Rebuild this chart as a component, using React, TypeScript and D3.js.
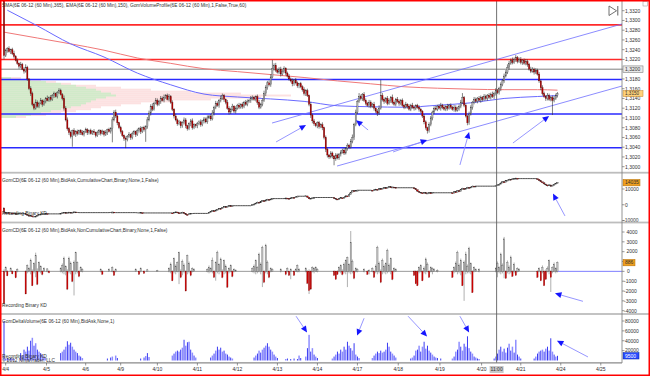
import React from "react";
import * as d3 from "d3";

// ---------- DATA ----------
// price in pips above 1.3000, one entry per 60-min bar
const firstOpen = 340;
const closePips = [
  228,238,242,236,240,232,226,218,212,206,
  210,200,196,204,180,160,150,128,120,132,
  124,130,136,128,134,140,136,142,138,146,
  150,144,152,156,148,140,120,96,78,70,
  62,74,66,72,68,74,70,66,72,76,
  70,74,68,72,70,64,70,74,68,72,
  66,70,76,72,78,96,112,104,90,80,
  72,64,58,56,62,66,60,68,72,66,
  74,78,72,80,76,82,96,110,124,118,
  130,136,128,134,140,136,142,146,138,144,
  132,118,104,96,88,92,84,90,96,84,
  78,88,94,80,86,84,88,92,86,94,
  98,92,100,104,98,110,122,130,126,136,
  140,146,138,132,120,112,118,124,114,120,
  126,122,128,124,132,128,134,136,140,142,
  138,144,132,122,128,136,150,162,172,168,
  184,202,208,198,194,200,190,196,202,192,
  186,180,176,170,178,172,166,170,164,158,
  150,156,146,128,106,94,88,84,90,82,
  86,80,60,36,24,20,28,22,16,24,
  18,26,30,34,28,38,44,40,52,60,
  86,112,134,144,140,148,136,130,126,132,
  124,128,120,114,110,120,146,138,134,140,
  130,136,142,132,128,138,134,130,136,126,
  122,128,124,118,126,122,120,126,122,118,
  114,104,92,80,74,86,100,112,120,118,
  124,120,126,122,118,124,120,126,122,118,
  122,116,120,124,132,142,126,104,90,108,
  122,132,138,134,140,136,142,138,144,140,
  146,142,148,144,150,156,152,160,168,176,
  186,194,204,212,218,214,220,224,216,220,
  214,218,212,216,210,200,196,200,194,198,
  190,176,162,150,144,140,146,138,142,136,
  140,146,150,
];
const wickUp = [
  2,4,3,5,2,4,6,3,4,2,5,3,4,6,3,2,5,4,3,6,
  4,3,5,2,4,3,6,2,5,3,4,2,3,5,4,3,6,4,5,3,
  4,2,5,3,4,2,3,5,2,4,3,2,4,3,5,2,4,3,2,4,
  3,5,2,4,3,6,4,5,3,2,4,3,2,4,3,5,2,4,3,2,
  4,3,5,2,4,3,6,5,4,6,3,5,4,3,5,4,6,3,4,5,
  3,4,2,5,3,4,2,3,5,4,2,3,4,5,3,2,4,3,5,2,
  4,3,5,2,4,6,3,5,4,3,6,4,3,2,5,4,3,5,2,4,
  3,5,2,4,3,5,4,3,5,4,3,2,4,5,3,4,6,5,4,5,
  6,17,4,5,3,4,5,3,4,2,3,4,3,5,2,4,3,2,4,3,
  5,3,4,2,5,3,4,2,3,4,3,5,2,4,3,2,4,3,2,4,
  3,2,4,3,5,2,4,3,5,6,4,5,3,7,4,3,5,4,3,5,
  4,3,5,2,4,6,32,5,4,3,5,4,3,6,4,3,5,4,3,4,
  3,5,2,4,3,5,4,2,3,4,3,2,4,3,2,5,4,3,4,5,
  3,4,5,3,4,2,5,3,4,3,5,4,3,4,5,9,3,4,2,5,
  4,3,5,4,3,5,4,3,5,4,3,5,4,6,4,5,3,4,5,4,
  5,4,6,5,4,6,4,5,3,4,5,3,4,5,4,3,5,4,3,4,
  3,4,3,5,4,3,5,4,3,4,5,4,3,
];
const wickDn = [
  8,3,4,2,5,3,4,2,3,5,4,2,5,3,4,3,5,4,4,3,
  3,4,2,5,3,4,2,3,4,3,5,2,4,3,2,4,5,3,4,5,
  4,21,3,5,4,3,5,2,4,3,5,4,2,3,5,4,3,5,4,2,
  4,3,5,2,4,28,3,4,5,3,4,3,5,18,4,3,5,4,3,5,
  3,4,5,3,4,25,4,3,5,4,3,2,4,3,5,2,4,3,2,4,
  3,4,5,3,4,3,5,4,3,5,4,3,5,4,3,4,5,3,4,3,
  5,3,4,2,4,3,5,4,3,5,4,3,5,4,3,5,4,3,4,5,
  3,4,3,5,4,3,4,3,5,4,3,4,5,4,3,4,3,5,4,3,
  4,3,5,4,3,4,5,3,4,5,3,4,3,5,4,3,4,5,3,4,
  4,5,3,4,6,5,4,3,5,4,3,5,4,6,5,4,3,5,13,4,
  3,4,5,3,4,3,5,4,3,4,5,3,4,3,4,5,3,4,3,5,
  4,3,5,4,6,4,3,4,5,3,4,3,5,4,3,4,3,5,4,3,
  4,3,5,3,4,3,5,4,3,5,4,4,5,4,6,4,3,5,4,3,
  4,3,5,4,3,4,5,3,4,3,5,4,3,5,4,3,4,3,5,4,
  3,5,4,3,4,3,5,4,3,4,5,3,4,3,5,4,3,4,5,3,
  4,3,4,5,3,4,3,5,4,3,4,5,3,4,5,3,4,3,5,4,
  3,4,5,4,3,5,4,3,4,30,4,3,4,
];
// SMA(365) and EMA(150): [bar, pips]
const smaPoints = [[0,276],[20,264],[40,252],[60,239],[80,223],[100,212],[120,201],[140,195],[160,189],[180,183],[200,176],[220,170],[240,164],[260,161],[280,159],[300,158],[320,158],[332,157]];
const emaPoints = [[2,321],[20,289],[40,252],[60,225],[80,192],[100,168],[120,149],[140,143],[160,139],[180,134],[200,125],[220,123],[240,122],[260,126],[280,131],[300,140],[320,144],[332,146]];
// volume profile rows: [pips, total, buy]
const profileRows = [[182,20,10],[178,40,30],[174,55,45],[170,70,60],[166,95,75],[162,120,85],[158,150,95],[154,190,100],[150,240,110],[146,290,115],[142,260,105],[138,210,95],[134,170,90],[130,140,85],[126,120,80],[122,100,70],[118,90,60],[114,75,50],[110,60,40],[106,45,30],[102,25,15]];
const redLevels = [291, 220];
const blueLevels = [179, 108, 39];
const crossPips = 200;
const crossBar = 295.5;
const channelLines = [[160.8, 89.6, 370.7, 292.7], [199.8, 1.4, 370.7, 165.5]];
const priceArrows = [[163.2,50.7,181.2,85.4],[218.4,75.3,211.2,95.5],[233.4,30.2,253.8,54.8],[273.5,3.5,279,71.2],[305.3,48.6,327,104]];
// cumulative delta (thousands), per bar
const cumDelta = [
  -5.0,
  -5.2,-5.0,-5.4,-5.3,-5.6,-5.5,-5.8,-5.6,-5.6,-5.6,-5.6,-5.6,
  -6.0,-6.6,-7.2,-7.0,-7.6,-7.7,-7.3,-6.8,
  -6.2,-6.0,-5.8,-5.8,-5.6,-5.8,-5.8,
  -5.8,-5.8,-5.8,-5.8,-5.8,-5.8,
  -5.6,-5.2,-4.9,-5.3,-5.0,-4.8,-5.1,-4.9,-4.6,-4.8,-4.9,-5.0,-5.0,
  -5.0,-5.0,-5.0,-5.0,-5.0,-5.0,-5.0,-5.0,-5.0,-5.0,-5.0,-5.0,-5.0,-5.0,-5.0,-5.0,-5.0,
  -4.9,-4.7,-4.9,-5.0,-5.0,
  -5.0,-5.0,-5.0,-5.0,-5.0,-5.0,-5.0,-5.0,-5.0,-5.0,-5.0,
  -5.1,-5.2,-5.0,-5.3,-5.2,-5.2,-5.2,-5.2,-5.2,
  -5.2,-5.2,-5.2,-5.2,-5.2,-5.2,-5.2,-5.2,-5.2,-5.2,-5.2,-5.2,
  -5.4,-5.0,-4.6,-5.0,-5.6,-5.2,-4.8,-5.4,-6.2,-6.4,-5.8,-5.6,-5.6,-5.5,-5.5,
  -5.5,-5.5,-5.5,-5.5,-5.5,-5.5,-5.5,
  -5.0,-4.4,-3.8,-4.2,-3.4,-3.0,
  -2.4,-2.6,-1.8,-1.2,-1.6,-1.0,-0.6,-0.9,-0.7,-0.6,-0.6,-0.6,
  -0.6,-0.6,-0.6,-0.6,-0.6,-0.6,-0.6,-0.6,
  0.0,0.4,1.0,1.6,1.2,2.0,2.6,2.2,3.0,3.4,3.0,3.6,3.9,3.9,3.9,3.9,
  3.9,3.9,3.9,3.9,
  4.2,4.0,3.8,4.3,4.6,4.4,5.0,5.4,
  5.4,5.4,5.4,5.4,
  5.6,4.8,3.8,4.0,4.3,4.5,4.6,4.6,
  4.6,4.6,4.6,4.6,4.6,4.6,4.6,4.6,4.6,
  4.2,3.6,3.4,3.8,4.4,4.1,4.8,5.6,5.2,6.4,8.0,9.0,8.6,9.0,9.2,9.2,
  9.2,9.2,9.2,9.2,9.2,9.2,9.2,
  9.0,9.4,9.8,9.4,10.2,10.0,10.4,10.8,10.5,11.0,11.4,11.0,11.2,11.0,10.8,10.8,10.8,
  10.8,10.8,10.8,10.8,10.8,10.8,10.8,10.8,
  10.4,9.6,8.6,8.0,7.6,7.4,7.8,7.2,7.4,7.6,7.4,7.7,7.6,7.6,7.6,7.6,7.6,
  7.6,7.6,7.6,7.6,7.6,7.6,
  7.4,8.2,8.0,9.0,8.4,9.6,10.4,9.8,10.2,11.0,10.6,11.2,11.8,11.6,11.8,11.8,
  11.8,11.8,11.8,11.8,11.8,11.8,11.8,11.8,11.8,11.8,
  12.0,12.6,13.0,13.8,14.6,14.2,15.2,15.6,16.2,15.8,16.4,16.6,16.8,16.6,16.6,
  16.6,16.6,16.6,16.6,16.6,16.6,16.6,16.6,16.6,16.6,
  16.2,15.4,14.6,14.0,13.2,12.6,12.0,12.6,11.8,12.4,13.0,13.6,14.035,
];
const cumArrow = [336.5, -7.1, 329.3, 7.1];
// non-cumulative delta: [bar, close, low, high]
const nonCum = [
  [0,-3300,-3400,200],[1,400,-100,500],[2,-450,-500,100],[4,300,0,400],[5,-250,-300,100],[7,-650,-700,0],[8,200,-100,300],
  [13,-2300,-2300,100],[14,600,-200,700],[15,300,-100,400],[16,1100,-300,1300],[17,-1450,-1500,200],[18,800,-200,900],[19,1600,-600,1900],[20,-1300,-1400,300],[21,900,-100,1000],[22,500,-200,600],[23,-300,-400,100],[24,300,0,400],[26,250,-100,300],[27,-150,-200,100],
  [34,300,-100,400],[35,600,-200,800],[36,1300,-300,1500],[37,500,-400,600],[38,-1800,-1900,200],[39,1300,-200,1500],[40,800,-300,1000],[41,-1000,-1100,100],[42,900,-2450,1100],[43,1900,-300,2000],[44,900,-200,1000],[45,-500,-600,100],[46,400,0,500],[47,200,-100,300],
  [58,200,-100,300],[59,-300,-300,100],[63,200,0,300],[65,400,-100,500],[66,-400,-450,100],[67,200,-100,300],
  [79,200,0,300],[81,-300,-350,50],[82,300,-100,400],[84,-200,-250,100],[86,150,0,250],[92,100,0,150],
  [99,300,-100,400],[100,700,-200,900],[101,-950,-1000,100],[102,1300,-200,1400],[103,500,-300,700],[104,900,-100,1000],[105,1900,-1300,2000],[106,-600,-700,200],[107,1000,-400,1200],[108,600,-200,800],[109,-2000,-2000,100],[110,1600,-300,1700],[111,800,-200,1000],[112,-400,-500,100],[113,300,-100,400],[114,200,0,300],
  [122,200,-100,300],[123,400,-200,600],[124,300,-100,400],[125,1100,-200,1400],[126,-600,-650,100],[127,900,-950,1000],[128,1950,-200,2100],[129,700,-300,800],[130,1250,-100,1400],[131,-600,-700,200],[132,1100,-300,1200],[133,500,-200,700],[134,-1600,-1700,100],[135,300,-200,400],[136,600,-100,700],[137,-500,-600,100],[138,200,-100,300],[139,100,0,200],
  [149,300,-100,400],[150,500,-200,700],[151,1100,-300,1200],[152,400,-200,500],[153,1750,-100,1900],[154,700,-300,900],[155,2400,-1600,2600],[156,-1100,-1200,100],[157,2600,-200,2800],[158,900,-300,1100],[159,-600,-700,100],[160,300,-100,400],[161,200,0,300],
  [166,200,-100,300],[169,-300,-400,0],[170,300,-100,400],[171,-400,-450,50],[172,200,-800,300],[174,-400,-450,100],[175,200,0,300],[176,600,-100,700],[177,200,-100,300],
  [181,300,-100,400],[182,-1200,-1300,100],[183,-1950,-2300,200],[184,-1800,-1900,100],[185,400,-100,500],[186,300,-200,400],[187,400,0,500],[188,200,-100,300],
  [198,-400,-450,100],[199,-800,-850,50],[200,-300,-350,100],[201,400,-100,500],[202,600,-200,700],[203,-300,-400,200],[204,700,-200,900],[205,1100,-300,1200],[206,1400,-1600,1500],[207,700,-200,800],[208,2950,-300,4100],[209,1000,-200,1200],[210,-700,-800,100],[211,300,-100,400],[212,200,-100,300],
  [216,200,-100,300],[218,-300,-350,100],[219,100,-300,200],
  [221,300,-100,400],[222,-600,-650,100],[223,500,-200,700],[224,2450,-300,2600],[225,800,-200,1000],[226,-1100,-1200,200],[227,1100,-300,1300],[228,500,-200,700],[229,800,-300,900],[230,2100,-200,2300],[231,600,-100,800],[232,1300,-300,1400],[233,-800,-900,100],[234,300,-100,400],[235,200,0,300],
  [246,-400,-450,100],[247,-1250,-1300,100],[248,-1450,-1500,100],[249,400,-200,500],[250,600,-100,700],[251,-950,-1000,100],[252,300,-200,500],[253,1250,-300,1400],[254,700,-100,900],[255,-600,-650,100],[256,400,-100,500],[257,300,-300,400],[258,200,0,300],[260,100,-100,200],
  [269,-600,-650,100],[270,400,-200,500],[271,800,-100,1000],[272,1950,-300,2100],[273,600,-200,800],[274,1100,-400,1300],[275,-1450,-1500,100],[276,900,-3000,1100],[277,1750,-300,2000],[278,500,-200,700],[279,2300,-200,2500],[280,800,-300,900],[281,-2150,-2200,100],[282,400,-100,500],[283,200,0,300],[285,200,-100,300],
  [295,300,-100,400],[296,800,-600,1000],[297,400,-200,500],[298,1750,-300,1900],[299,600,-200,800],[300,3300,-700,3500],[301,-700,-750,100],[302,900,-200,1100],[303,400,-300,600],[304,1400,-200,1600],[305,-500,-550,100],[306,700,-200,900],[307,-400,-450,100],[308,300,-100,400],[309,200,0,300],
  [320,-600,-650,100],[321,300,-100,400],[322,-950,-1000,100],[323,400,-200,600],[324,-1450,-1500,100],[325,-800,-850,200],[326,300,-100,500],[327,1100,-300,1200],[328,-600,-2100,100],[329,400,-200,500],[330,700,-100,900],[331,300,-200,400],[332,886,-100,1000],
];
const nonCumArrow = [347.3, -3046, 330.5, -2234];
// delta volume (thousands): [bar, value]
const deltaVol = [
  [0,80],[1,4],[2,5],[3,3],[4,5],[5,4],[6,3],
  [10,15],[11,10],[12,22],[13,18],[14,28],[15,20],[16,40],[17,46],[18,30],[19,35],[20,22],[21,18],[22,15],[23,12],[24,8],[25,5],
  [34,15],[35,18],[36,22],[37,28],[38,39],[39,32],[40,36],[41,28],[42,22],[43,18],[44,15],[45,10],[46,8],[47,5],
  [62,4],[64,6],[65,8],[67,10],[68,5],
  [82,4],[84,6],[85,9],[86,15],[87,7],
  [101,10],[102,14],[103,18],[104,20],[105,18],[106,22],[107,26],[108,42],[109,30],[110,37],[111,38],[112,22],[113,16],[114,10],[115,6],
  [124,6],[125,10],[126,14],[127,20],[128,28],[129,22],[130,26],[131,18],[132,20],[133,14],[134,12],[135,8],[136,6],[137,4],
  [150,6],[151,10],[152,14],[153,20],[154,16],[155,22],[156,26],[157,30],[158,35],[159,28],[160,22],[161,18],[162,12],[163,8],[164,5],
  [169,3],[170,4],[172,3],[174,4],[176,3],[177,10],[178,5],
  [181,8],[182,25],[183,52],[184,18],[185,25],[186,12],[187,8],[188,5],
  [197,4],[198,8],[199,12],[200,18],[201,14],[202,22],[203,18],[204,28],[205,22],[206,38],[207,30],[208,25],[209,20],[210,35],[211,12],[212,8],[213,5],
  [221,5],[222,10],[223,14],[224,18],[225,15],[226,20],[227,16],[228,18],[229,22],[230,36],[231,28],[232,18],[233,14],[234,10],[235,6],
  [244,4],[245,6],[246,10],[247,20],[248,22],[249,30],[250,18],[251,28],[252,38],[253,24],[254,30],[255,20],[256,16],[257,12],[258,8],[259,6],[260,5],[262,4],
  [269,4],[270,8],[271,18],[272,22],[273,38],[274,28],[275,20],[276,34],[277,28],[278,49],[279,25],[280,18],[281,14],[282,8],[283,6],[284,4],[285,3],
  [294,4],[295,8],[296,14],[297,22],[298,28],[299,18],[300,24],[301,16],[302,26],[303,34],[304,20],[305,28],[306,16],[307,42],[308,12],[309,8],[310,4],
  [318,4],[319,8],[320,14],[321,18],[322,20],[323,22],[324,18],[325,24],[326,28],[327,20],[328,45],[329,18],[330,12],[331,8],[332,9.5],
];
const deltaArrows = [[175.2,89.7,181.8,56.7],[216,85.6,211.8,50.5],[242.4,89.7,253.8,48.5],[273.5,89.7,279,56.7],[350.3,7.2,331.7,40.2]];
// axis ticks
const dateTicks = [[1,"4/4"],[25.5,"4/5"],[49,"4/6"],[70,"4/9"],[92,"4/10"],[116,"4/11"],[140,"4/12"],[164,"4/13"],[188,"4/14"],[212,"4/17"],[236.5,"4/18"],[261.5,"4/19"],[286.5,"4/20"],[310,"4/21"],[334,"4/24"],[358,"4/25"]];
const priceTickPips = [0,20,40,60,80,100,120,140,160,180,200,220,240,260,280,300,320];
const cumTicks = [10, 0, -10];
const nonCumTicks = [4000,3000,2000,1000,0,-1000,-2000,-3000,-4000];
const deltaTicks = [80,60,40,20];

const FONT = "'Liberation Sans', Arial, sans-serif";
const AXR = 622;

function Arrow({ x1, y1, x2, y2 }: { x1: number; y1: number; x2: number; y2: number }) {
  const dx = x2 - x1, dy = y2 - y1;
  const len = Math.hypot(dx, dy) || 1;
  const ux = dx / len, uy = dy / len;
  const L = 6.5, Wd = 3;
  const bx = x2 - ux * L, by = y2 - uy * L;
  const pts = `${x2},${y2} ${bx - uy * Wd},${by + ux * Wd} ${bx + uy * Wd},${by - ux * Wd}`;
  return (
    <g>
      <line x1={x1} y1={y1} x2={bx} y2={by} stroke="#8a8aff" strokeWidth={0.9} />
      <polygon points={pts} fill="#1515ff" />
    </g>
  );
}

export default function App() {
  const x = d3.scaleLinear().domain([0, 358]).range([4, 600.8]);
  const yP = d3.scaleLinear().domain([0, 320]).range([166.7, 10.7]);
  const yC = d3.scaleLinear().domain([-10, 10]).range([220.5, 189]);
  const yN = d3.scaleLinear().domain([-4000, 4000]).range([310.7, 232]);
  const yD = d3.scaleLinear().domain([0, 80]).range([360.5, 321]);
  const xProf = d3.scaleLinear().domain([0, 300]).range([1, 301]);
  const bw = 1.25;

  const curve = d3.line<number[]>().x((d) => x(d[0])).y((d) => yP(d[1])).curve(d3.curveMonotoneX);
  const cumLine = d3.line<number>().x((_, i) => x(i)).y((d) => yC(d));

  const fmtPrice = (p: number) => "1," + String(3000 + p);
  const lastClose = closePips[closePips.length - 1];
  const lastCum = cumDelta[cumDelta.length - 1];
  const lastNon = nonCum[nonCum.length - 1][1];
  const lastVol = deltaVol[deltaVol.length - 1][1];

  const txt = { fontFamily: FONT, fontSize: 4.8, fill: "#303030" } as const;
  const axTxt = { fontFamily: FONT, fontSize: 5, fill: "#303030" } as const;

  return (
    <svg width={650} height={376} style={{ position: "fixed", left: 0, top: 0, background: "#fff" }}>
      <defs>
        <clipPath id="cp"><rect x={0} y={0} width={AXR} height={172} /></clipPath>
        <clipPath id="cc"><rect x={0} y={173.5} width={AXR} height={48} /></clipPath>
        <clipPath id="cn"><rect x={0} y={223.5} width={AXR} height={89.5} /></clipPath>
        <clipPath id="cd"><rect x={0} y={315} width={AXR} height={47.5} /></clipPath>
      </defs>
      <rect x={0} y={0} width={650} height={376} fill="#fff" />

      {/* ---------- price panel ---------- */}
      <g clipPath="url(#cp)">
        {profileRows.map((r, k) => (
          <rect key={"pt" + k} x={xProf(0)} y={yP(r[0] + 2)} width={xProf(r[1]) - xProf(0)} height={yP(r[0] - 2) - yP(r[0] + 2)} fill="#f9c9c9" opacity={0.55} />
        ))}
        {profileRows.map((r, k) => (
          <rect key={"pb" + k} x={xProf(0)} y={yP(r[0] + 2)} width={xProf(r[2]) - xProf(0)} height={yP(r[0] - 2) - yP(r[0] + 2)} fill="#bfeebf" opacity={0.7} />
        ))}
        {redLevels.map((p, k) => (
          <line key={"rl" + k} x1={0} x2={AXR} y1={yP(p)} y2={yP(p)} stroke="#ff2a2a" strokeWidth={1.6} />
        ))}
        {blueLevels.map((p, k) => (
          <line key={"bl" + k} x1={0} x2={AXR} y1={yP(p)} y2={yP(p)} stroke="#2a2aff" strokeWidth={1.5} />
        ))}
        <line x1={0} x2={AXR} y1={yP(crossPips)} y2={yP(crossPips)} stroke="#707070" strokeWidth={0.9} />
        <path d={curve(smaPoints as any) || ""} fill="none" stroke="#f07878" strokeWidth={1} />
        <path d={curve(emaPoints as any) || ""} fill="none" stroke="#6a6aff" strokeWidth={1} />
        {channelLines.map((c, k) => (
          <line key={"ch" + k} x1={x(c[0])} y1={yP(c[1])} x2={x(c[2])} y2={yP(c[3])} stroke="#6f6fff" strokeWidth={0.8} />
        ))}
        {closePips.map((c, i) => {
          const o = i === 0 ? firstOpen : closePips[i - 1];
          const hi = Math.max(o, c) + wickUp[i];
          const lo = Math.min(o, c) - wickDn[i];
          const top = yP(Math.max(o, c));
          const h = Math.max(0.8, yP(Math.min(o, c)) - top);
          const up = c >= o;
          return (
            <g key={"c" + i}>
              <line x1={x(i)} x2={x(i)} y1={yP(hi)} y2={yP(lo)} stroke="#2e2e2e" strokeWidth={0.6} />
              <rect x={x(i) - bw / 2} y={top} width={bw} height={h} fill={up ? "#b5b5b5" : "#b00000"} stroke={up ? "#3a3a3a" : "#6a0000"} strokeWidth={0.3} />
            </g>
          );
        })}
        {priceArrows.map((a, k) => (
          <Arrow key={"pa" + k} x1={x(a[0])} y1={yP(a[1])} x2={x(a[2])} y2={yP(a[3])} />
        ))}
      </g>
      <text x={2} y={6.8} {...txt}>SMA(6E 06-12 (60 Min),365), EMA(6E 06-12 (60 Min),150), GomVolumeProfile(6E 06-12 (60 Min),1,False,True,60)</text>

      {/* price axis */}
      {priceTickPips.map((p) => (
        <g key={"pt" + p}>
          <line x1={AXR} x2={AXR + 2.5} y1={yP(p)} y2={yP(p)} stroke="#505050" strokeWidth={0.6} />
          {Math.abs(yP(p) - yP(crossPips)) > 4 && (
            <text x={625} y={yP(p) + 1.8} {...axTxt}>{fmtPrice(p)}</text>
          )}
        </g>
      ))}
      <rect x={623} y={yP(crossPips) - 3.3} width={20} height={6.6} fill="#e8e8e8" stroke="#808080" strokeWidth={0.6} />
      <text x={625} y={yP(crossPips) + 1.8} {...axTxt}>{fmtPrice(crossPips)}</text>
      <rect x={623} y={yP(lastClose) - 2.9} width={20} height={5.8} fill="#ffd27a" stroke="#c08020" strokeWidth={0.5} />
      <text x={625} y={yP(lastClose) + 1.7} fontFamily={FONT} fontSize={4.6} fill="#303030">{fmtPrice(lastClose)}</text>
      {/* icons */}
      <polygon points="609,6 609,15.5 616.5,10.75" fill="none" stroke="#606060" strokeWidth={0.9} />
      <line x1={617.8} x2={617.8} y1={6} y2={15.5} stroke="#606060" strokeWidth={1} />
      <rect x={643} y={1.5} width={4.5} height={4.5} fill="#fff" stroke="#909090" strokeWidth={0.5} />

      {/* ---------- cumulative delta panel ---------- */}
      <g clipPath="url(#cc)">
        <path d={cumLine(cumDelta) || ""} fill="none" stroke="#3a3a3a" strokeWidth={0.9} />
        {cumDelta.map((c, i) => {
          const o = i === 0 ? -2 : cumDelta[i - 1];
          if (Math.abs(c - o) < 0.15) return null;
          const top = yC(Math.max(o, c));
          const h = Math.max(0.9, yC(Math.min(o, c)) - top);
          return <rect key={"cd" + i} x={x(i) - 0.8} y={top} width={1.6} height={h} fill={c > o ? "#a8a8a8" : "#d40000"} stroke="#2a2a2a" strokeWidth={0.3} />;
        })}
        <Arrow x1={x(cumArrow[0])} y1={yC(cumArrow[1])} x2={x(cumArrow[2])} y2={yC(cumArrow[3])} />
      </g>
      <text x={2} y={181.5} {...txt}>GomCD(6E 06-12 (60 Min),BidAsk,CumulativeChart,Binary,None,1,False)</text>
      <text x={2} y={215} {...txt}>Recording Binary KD</text>
      {cumTicks.map((v) => (
        <g key={"ct" + v}>
          <line x1={AXR} x2={AXR + 2.5} y1={yC(v)} y2={yC(v)} stroke="#505050" strokeWidth={0.6} />
          <text x={v < 0 ? 623 : 625} y={yC(v) + 1.8} {...axTxt}>{String(v * 1000)}</text>
        </g>
      ))}
      <rect x={623} y={yC(lastCum) - 3.2} width={17} height={6.4} fill="#f0a020" stroke="#b06a00" strokeWidth={0.5} />
      <text x={625} y={yC(lastCum) + 1.8} {...axTxt}>{String(Math.round(lastCum * 1000))}</text>

      {/* ---------- non-cumulative delta panel ---------- */}
      <g clipPath="url(#cn)">
        <line x1={0} x2={x(332)} y1={yN(0)} y2={yN(0)} stroke="#808080" strokeWidth={0.8} />
        <line x1={x(332)} x2={AXR} y1={yN(0)} y2={yN(0)} stroke="#6f6fff" strokeWidth={0.9} />
        {nonCum.map((d) => {
          const [i, c, lo, hi] = d;
          const top = yN(Math.max(0, c));
          const h = Math.max(0.6, yN(Math.min(0, c)) - top);
          return (
            <g key={"n" + i}>
              <line x1={x(i)} x2={x(i)} y1={yN(hi)} y2={yN(lo)} stroke="#7a7a7a" strokeWidth={0.6} />
              <rect x={x(i) - bw / 2} y={top} width={bw} height={h} fill={c >= 0 ? "#c4c4c4" : "#d00000"} stroke={c >= 0 ? "#505050" : "#8a0000"} strokeWidth={0.3} />
            </g>
          );
        })}
        <Arrow x1={x(nonCumArrow[0])} y1={yN(nonCumArrow[1])} x2={x(nonCumArrow[2])} y2={yN(nonCumArrow[3])} />
      </g>
      <text x={2} y={232} {...txt}>GomCD(6E 06-12 (60 Min),BidAsk,NonCumulativeChart,Binary,None,1,False)</text>
      <text x={2} y={306.5} {...txt}>Recording Binary KD</text>
      {nonCumTicks.map((v) => (
        <g key={"nt" + v}>
          <line x1={AXR} x2={AXR + 2.5} y1={yN(v)} y2={yN(v)} stroke="#505050" strokeWidth={0.6} />
          {Math.abs(yN(v) - yN(lastNon)) > 5 && (
            <text x={v < 0 ? 624 : v === 0 ? 627 : 626.5} y={yN(v) + 1.8} {...axTxt}>{String(v)}</text>
          )}
        </g>
      ))}
      <rect x={623} y={yN(lastNon) - 3.2} width={12} height={6.4} fill="#f0a020" stroke="#b06a00" strokeWidth={0.5} />
      <text x={625} y={yN(lastNon) + 1.8} {...axTxt}>{String(lastNon)}</text>

      {/* ---------- delta volume panel ---------- */}
      <g clipPath="url(#cd)">
        {deltaVol.map((d) => {
          const [i, v] = d;
          const top = yD(v);
          const dark = i % 2 === 0;
          return <rect key={"d" + i} x={x(i) - (dark ? 0.45 : 0.75)} y={top} width={dark ? 0.9 : 1.5} height={yD(0) - top} fill={dark ? "#2525f0" : "#8e8eff"} />;
        })}
        {deltaArrows.map((a, k) => (
          <Arrow key={"da" + k} x1={x(a[0])} y1={yD(a[1])} x2={x(a[2])} y2={yD(a[3])} />
        ))}
      </g>
      <text x={2} y={323} {...txt}>GomDeltaVolume(6E 06-12 (60 Min),BidAsk,None,1)</text>
      <text x={2} y={358} {...txt}>Recording Binary KD</text>
      <text x={2} y={362.2} {...txt}>© 2012 NinjaTrader, LLC</text>
      {deltaTicks.map((v) => (
        <g key={"dt" + v}>
          <line x1={AXR} x2={AXR + 2.5} y1={yD(v)} y2={yD(v)} stroke="#505050" strokeWidth={0.6} />
          <text x={625} y={yD(v) + 1.8} {...axTxt}>{String(v * 1000)}</text>
        </g>
      ))}
      <rect x={623} y={yD(lastVol) - 3.2} width={16} height={6.4} fill="#2a4cff" stroke="#0020a0" strokeWidth={0.5} />
      <text x={625} y={yD(lastVol) + 1.8} fontFamily={FONT} fontSize={5} fill="#ffffff">{String(Math.round(lastVol * 1000))}</text>

      {/* panel separators */}
      {[172.7, 222.5, 314].map((yy) => (
        <rect key={"sep" + yy} x={0} y={yy - 0.9} width={650} height={1.8} fill="#bdbdbd" />
      ))}
      {/* right axis line */}
      <line x1={AXR} x2={AXR} y1={0} y2={363} stroke="#7a7a7a" strokeWidth={0.8} />
      {/* crosshair vertical */}
      <line x1={x(crossBar)} x2={x(crossBar)} y1={0} y2={363} stroke="#606060" strokeWidth={0.9} />

      {/* x axis */}
      <line x1={0} x2={AXR} y1={362.8} y2={362.8} stroke="#8a8a8a" strokeWidth={1.2} />
      {dateTicks.map((t) => (
        <g key={"xt" + t[1]}>
          <line x1={x(t[0] as number)} x2={x(t[0] as number)} y1={363} y2={365.5} stroke="#505050" strokeWidth={0.6} />
          <text x={x(t[0] as number)} y={371} textAnchor="middle" {...axTxt}>{t[1]}</text>
        </g>
      ))}
      <rect x={x(crossBar) - 7} y={366} width={14} height={7} fill="#c8c8c8" />
      <text x={x(crossBar)} y={371.2} textAnchor="middle" {...axTxt}>11:00</text>

      {/* outer border */}
      <rect x={0.75} y={0.75} width={648.5} height={374.5} fill="none" stroke="#ff0000" strokeWidth={1.5} />
    </svg>
  );
}
